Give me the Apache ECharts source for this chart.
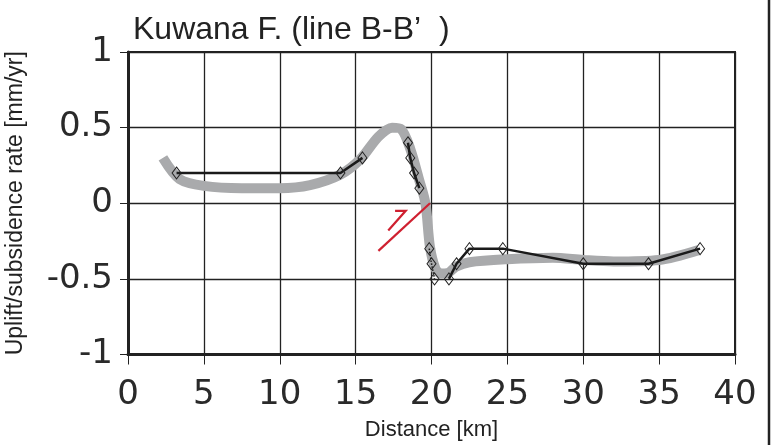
<!DOCTYPE html>
<html><head><meta charset="utf-8">
<script src="https://cdn.jsdelivr.net/npm/echarts@6/dist/echarts.min.js"></script>
<style>html,body{margin:0;padding:0;background:#fff}#c{width:771px;height:445px}</style>
</head><body><div id="c"></div>
<script>
// Gray smoothed profile
const grayX = [2.3, 3.4, 5.0, 7.5, 10.0, 12.0, 14.0, 15.3, 16.5, 17.4, 18.0, 18.6, 19.2, 19.6, 19.9, 20.25, 20.6, 21.1, 21.6, 22.5, 25.0, 28.0, 30.0, 32.0, 35.0, 37.6];
const grayY = [0.30, 0.16, 0.115, 0.10, 0.10, 0.12, 0.19, 0.29, 0.44, 0.50, 0.49, 0.36, 0.15, 0.0, -0.29, -0.43, -0.465, -0.46, -0.42, -0.39, -0.37, -0.36, -0.375, -0.385, -0.375, -0.31];
// Observed points (black lines with diamonds)
const segAX = [3.2, 14.0, 15.45];
const segAY = [0.2, 0.2, 0.3];
const segBX = [18.45, 18.6, 18.85, 19.2];
const segBY = [0.4, 0.3, 0.2, 0.1];
const segCX = [19.85, 20.0, 20.2];
const segCY = [-0.3, -0.4, -0.5];
const segDX = [21.15, 21.65, 22.5, 24.7, 30.0, 34.3, 37.7];
const segDY = [-0.5, -0.4, -0.3, -0.3, -0.4, -0.4, -0.3];
// Red fault symbol (data coordinates)
const faultX = [16.5, 19.9];
const faultY = [-0.315, 0.0];
const arrowX = [17.15, 18.3, 17.6];
const arrowY = [-0.18, -0.05, -0.05];
// Axis ticks
const xTicks = [0, 5, 10, 15, 20, 25, 30, 35, 40];
const yTicks = [-1, -0.5, 0, 0.5, 1];

const pairs = (xs, ys) => xs.map((x, i) => [x, ys[i]]);
const tickFont = 'DejaVu Sans';
const blackSeg = (xs, ys, dotted) => ({
  type: 'line', data: pairs(xs, ys), z: 5,
  symbol: 'diamond', symbolSize: [9, 12], showSymbol: true,
  itemStyle: { color: 'rgba(0,0,0,0)', borderColor: '#222', borderWidth: 1 },
  lineStyle: { color: '#1a1a1a', width: dotted ? 1.5 : 2.5, type: dotted ? 'dotted' : 'solid' },
  emphasis: { disabled: true }, animation: false
});

const chart = echarts.init(document.getElementById('c'), null, { renderer: 'canvas' });
chart.setOption({
  animation: false,
  title: {
    text: 'Kuwana F. (line B-B\u2019  )', left: 128, top: 9,
    textStyle: { fontFamily: 'Liberation Sans', fontSize: 32, fontWeight: 'normal', color: '#222' }
  },
  grid: { left: 128, right: 36, top: 52, bottom: 90.5, containLabel: false, outerBoundsMode: 'none',
    show: true, borderColor: '#222', borderWidth: 2, backgroundColor: 'transparent' },
  xAxis: {
    type: 'value', min: xTicks[0], max: xTicks[xTicks.length - 1], interval: 5,
    name: 'Distance [km]', nameLocation: 'middle', nameGap: 64,
    nameTextStyle: { fontFamily: 'Liberation Sans', fontSize: 22, color: '#222' },
    axisLine: { show: true, onZero: false, lineStyle: { color: '#222', width: 3 } },
    axisTick: { show: true, inside: false, length: 10, lineStyle: { color: '#222', width: 1 } },
    axisLabel: { fontFamily: tickFont, fontSize: 34, fontWeight: 'normal', color: '#2a2a2a', margin: 24 },
    splitLine: { show: true, lineStyle: { color: '#222', width: 1.3 } }
  },
  yAxis: {
    type: 'value', min: yTicks[0], max: yTicks[yTicks.length - 1], interval: 0.5,
    name: 'Uplift/subsidence rate [mm/yr]', nameLocation: 'middle', nameGap: 101,
    nameTextStyle: { fontFamily: 'Liberation Sans', fontSize: 23, color: '#222' },
    axisLine: { show: true, lineStyle: { color: '#222', width: 3 } },
    axisTick: { show: true, inside: false, length: 8, lineStyle: { color: '#222', width: 1 } },
    axisLabel: { fontFamily: tickFont, fontSize: 34, fontWeight: 'normal', color: '#2a2a2a', margin: 15 },
    splitLine: { show: true, lineStyle: { color: '#222', width: 1.3 } }
  },
  series: [
    { type: 'line', data: pairs(grayX, grayY), smooth: 0.3, showSymbol: false, z: 3,
      lineStyle: { color: '#a9aaac', width: 10, cap: 'butt', join: 'round' }, emphasis: { disabled: true } },
    blackSeg(segAX, segAY, false),
    blackSeg(segBX, segBY, false),
    blackSeg(segCX, segCY, true),
    blackSeg(segDX, segDY, false),
    { type: 'line', data: pairs(faultX, faultY), showSymbol: false, z: 6,
      lineStyle: { color: '#cf2030', width: 2.2 }, emphasis: { disabled: true } },
    { type: 'line', data: pairs(arrowX, arrowY), showSymbol: false, z: 6,
      lineStyle: { color: '#cf2030', width: 2.2, join: 'miter' }, emphasis: { disabled: true } }
  ],
  graphic: [
    { type: 'line', shape: { x1: 769, y1: 0, x2: 769, y2: 445 }, style: { stroke: '#222', lineWidth: 2.5 }, z: 10 }
  ]
});
</script></body></html>
